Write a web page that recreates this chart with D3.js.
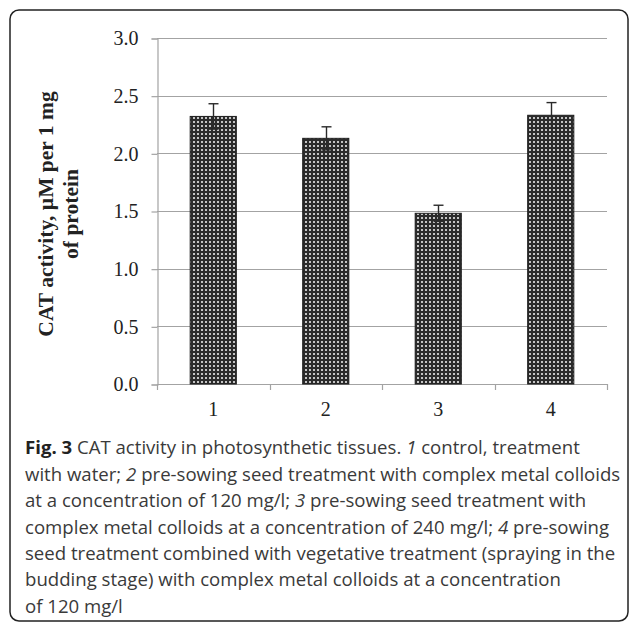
<!DOCTYPE html>
<html>
<head>
<meta charset="utf-8">
<script src="https://cdn.jsdelivr.net/npm/d3@7/dist/d3.min.js"></script>
<style>
  html, body { margin: 0; padding: 0; background: #fff; }
  svg { display: block; }
</style>
</head>
<body>
<div id="chart"></div>
<script>
// CAT activity per treatment
var categories = ['1', '2', '3', '4']
var values = [2.32, 2.13, 1.48, 2.33]
var errors = [0.11, 0.10, 0.07, 0.11]
var yTicks = [0, 0.5, 1.0, 1.5, 2.0, 2.5, 3.0]

var yLabelLines = ['CAT activity, \u00b5M per 1 mg', 'of protein']

// caption, one entry per printed line; each piece is [text, style]
var captionLines = [
  [['Fig. 3', 'b'], [' CAT activity in photosynthetic tissues. ', ''], ['1', 'i'], [' control, treatment', '']],
  [['with water; ', ''], ['2', 'i'], [' pre-sowing seed treatment with complex metal colloids', '']],
  [['at a concentration of 120 mg/l; ', ''], ['3', 'i'], [' pre-sowing seed treatment with', '']],
  [['complex metal colloids at a concentration of 240 mg/l; ', ''], ['4', 'i'], [' pre-sowing', '']],
  [['seed treatment combined with vegetative treatment (spraying in the', '']],
  [['budding stage) with complex metal colloids at a concentration', '']],
  [['of 120 mg/l', '']]
]

var W = 629
var H = 624
var plot = { left: 157, right: 607, top: 38, bottom: 384 }
var gridColor = '#a3a3a3'

var svg = d3.select('#chart').append('svg')
  .attr('width', W)
  .attr('height', H)

// dotted fill like the Excel pattern
var defs = svg.append('defs')
var pat = defs.append('pattern')
  .attr('id', 'dots')
  .attr('patternUnits', 'userSpaceOnUse')
  .attr('width', 4)
  .attr('height', 4)
pat.append('rect').attr('width', 4).attr('height', 4).attr('fill', '#2b2b2b')
pat.append('rect').attr('x', 1).attr('y', 1).attr('width', 2).attr('height', 2).attr('fill', '#c4c4c4')

// rounded frame
svg.append('rect')
  .attr('x', 10)
  .attr('y', 10)
  .attr('width', 618)
  .attr('height', 611)
  .attr('rx', 9)
  .attr('fill', 'none')
  .attr('stroke', '#222')
  .attr('stroke-width', 1.5)

var x = d3.scaleBand()
  .domain(categories)
  .range([plot.left, plot.right])
  .paddingInner(0.59)
  .paddingOuter(0.295)

var y = d3.scaleLinear()
  .domain([0, 3])
  .range([plot.bottom, plot.top])

var g = svg.append('g')

// horizontal gridlines
g.append('g')
  .selectAll('line')
  .data(yTicks.filter(d => d > 0))
  .join('line')
  .attr('x1', plot.left)
  .attr('x2', plot.right)
  .attr('y1', d => Math.round(y(d)) + 0.5)
  .attr('y2', d => Math.round(y(d)) + 0.5)
  .attr('stroke', gridColor)
  .attr('stroke-width', 1.2)

// y axis
var yAxis = g.append('g')
  .attr('transform', 'translate(' + (plot.left + 0.5) + ',0.5)')
  .call(d3.axisLeft(y).tickValues(yTicks).tickFormat(d3.format('.1f')).tickSize(6).tickPadding(13))
yAxis.select('.domain').attr('stroke', gridColor).attr('stroke-width', 1.2)
yAxis.selectAll('.tick line').attr('stroke', gridColor).attr('stroke-width', 1.2)
yAxis.selectAll('.tick text')
  .attr('fill', '#222')
  .style('font-family', '"Liberation Serif", "Times New Roman", serif')
  .style('font-size', '20px')

// x axis: ticks sit on the band boundaries
var step = x.step()
var gap = step - x.bandwidth()
var bounds = categories.map(d => x(d) - gap / 2).concat([plot.right])
g.append('line')
  .attr('x1', plot.left)
  .attr('x2', plot.right)
  .attr('y1', plot.bottom + 0.5)
  .attr('y2', plot.bottom + 0.5)
  .attr('stroke', gridColor)
  .attr('stroke-width', 1.2)
g.append('g')
  .selectAll('line')
  .data(bounds)
  .join('line')
  .attr('x1', d => Math.round(d) + 0.5)
  .attr('x2', d => Math.round(d) + 0.5)
  .attr('y1', plot.bottom)
  .attr('y2', plot.bottom + 6)
  .attr('stroke', gridColor)
  .attr('stroke-width', 1.2)
g.append('g')
  .selectAll('text')
  .data(categories)
  .join('text')
  .attr('x', d => x(d) + x.bandwidth() / 2)
  .attr('y', 416)
  .attr('text-anchor', 'middle')
  .attr('fill', '#222')
  .style('font-family', '"Liberation Serif", "Times New Roman", serif')
  .style('font-size', '20px')
  .text(d => d)

// bars
g.append('g')
  .selectAll('rect')
  .data(values)
  .join('rect')
  .attr('x', (d, i) => x(categories[i]))
  .attr('y', d => y(d))
  .attr('width', x.bandwidth())
  .attr('height', d => y(0) - y(d))
  .attr('fill', 'url(#dots)')
  .attr('stroke', '#1e1e1e')
  .attr('stroke-width', 1)

// error bars
var eb = g.append('g')
  .attr('stroke', '#2a2a2a')
  .attr('stroke-width', 1.4)
values.forEach(function (v, i) {
  var cx = Math.round(x(categories[i]) + x.bandwidth() / 2) + 0.5
  eb.append('line')
    .attr('x1', cx).attr('x2', cx)
    .attr('y1', y(v - errors[i])).attr('y2', y(v + errors[i]))
  eb.append('line')
    .attr('x1', cx - 5).attr('x2', cx + 5)
    .attr('y1', y(v + errors[i])).attr('y2', y(v + errors[i]))
  eb.append('line')
    .attr('x1', cx - 5).attr('x2', cx + 5)
    .attr('y1', y(v - errors[i])).attr('y2', y(v - errors[i]))
})

// y axis title, two rotated lines
var yl = svg.append('text')
  .attr('transform', 'translate(53,214) rotate(-90)')
  .attr('text-anchor', 'middle')
  .attr('fill', '#222')
  .style('font-family', '"Liberation Serif", "Times New Roman", serif')
  .style('font-size', '21.5px')
  .style('font-weight', 'bold')
yl.selectAll('tspan')
  .data(yLabelLines)
  .join('tspan')
  .attr('x', 0)
  .attr('dy', (d, i) => i === 0 ? 0 : 24.5)
  .text(d => d)

// caption
var cap = svg.append('g')
  .attr('fill', '#3a3a3a')
  .style('font-family', '"Open Sans", sans-serif')
  .style('font-size', '18.6px')
captionLines.forEach(function (parts, li) {
  var t = cap.append('text')
    .attr('x', 25)
    .attr('y', 454.3 + li * 26.4)
  parts.forEach(function (p) {
    t.append('tspan')
      .style('font-weight', p[1] === 'b' ? 'bold' : null)
      .style('font-style', p[1] === 'i' ? 'italic' : null)
      .attr('fill', p[1] === 'b' ? '#222' : null)
      .text(p[0])
  })
})
</script>
</body>
</html>
